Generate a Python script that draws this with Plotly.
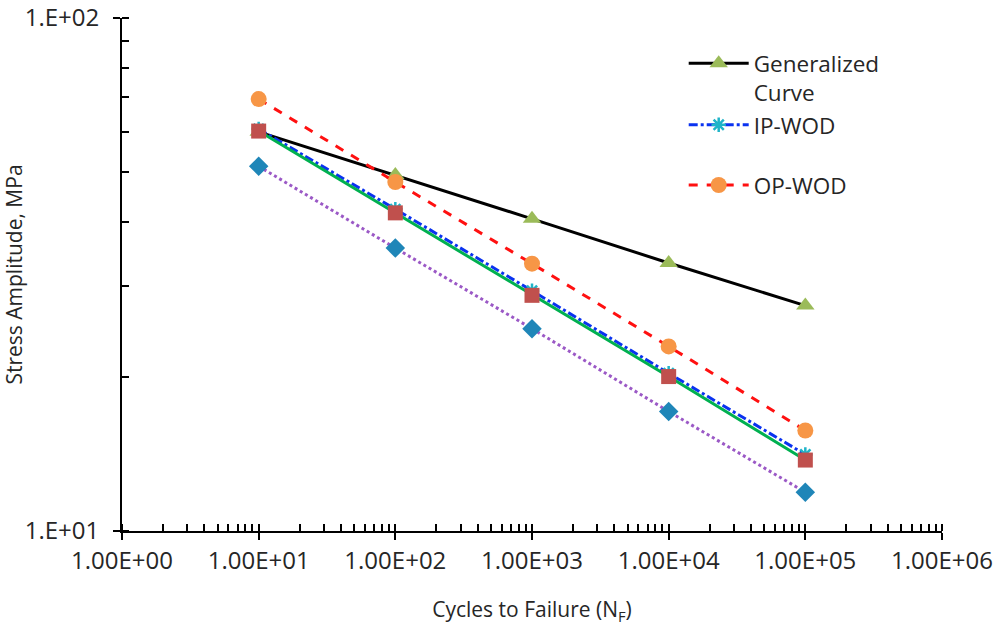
import plotly.graph_objects as go

cycles = [1e1, 1e2, 1e3, 1e4, 1e5]
generalized = [60.0, 49.4, 40.6, 33.3, 27.5]
ip_wod = [60.8, 42.4, 29.4, 20.3, 14.1]
op_wod = [69.5, 47.9, 33.2, 22.9, 15.7]
series_sq = [60.2, 41.7, 28.8, 20.0, 13.75]
series_dia = [51.4, 35.6, 24.8, 17.1, 11.9]

x_ticks = [1e0, 1e1, 1e2, 1e3, 1e4, 1e5, 1e6]
x_ticktext = ["1.00E+00", "1.00E+01", "1.00E+02", "1.00E+03", "1.00E+04", "1.00E+05", "1.00E+06"]
y_ticks = [10, 100]
y_ticktext = ["1.E+01", "1.E+02"]

FONT = "Open Sans"
TXT = "#262626"

fig = go.Figure()
fig.add_trace(go.Scatter(
    x=cycles, y=generalized, name="Generalized<br>Curve", mode="lines+markers",
    line=dict(color="black", width=3),
    marker=dict(symbol="triangle-up", size=16, color="#9BBB59"),
    legendgroup="a"))
fig.add_trace(go.Scatter(
    x=cycles, y=ip_wod, name="IP-WOD", mode="lines+markers",
    line=dict(color="#0A32F0", width=3, dash="dashdot"),
    marker=dict(symbol="asterisk-open", size=12, color="#1FB4C8", line=dict(color="#1FB4C8", width=2.5)),
    legendgroup="a"))
fig.add_trace(go.Scatter(
    x=cycles, y=op_wod, name="OP-WOD", mode="lines+markers",
    line=dict(color="#FF1010", width=3, dash="dash"),
    marker=dict(symbol="circle", size=16, color="#F79646"),
    legendgroup="b"))
fig.add_trace(go.Scatter(
    x=cycles, y=series_sq, name="", mode="lines+markers", showlegend=False,
    line=dict(color="#00B050", width=3),
    marker=dict(symbol="square", size=15, color="#C0504D")))
fig.add_trace(go.Scatter(
    x=cycles, y=series_dia, name="", mode="lines+markers", showlegend=False,
    xaxis="x2", yaxis="y2",
    line=dict(color="#9B59C6", width=3, dash="dot"),
    marker=dict(symbol="diamond", size=15, color="#1F86B8")))

axis_common = dict(
    showline=True, linecolor="black", linewidth=2, showgrid=False, zeroline=False,
    automargin=False,
    ticks="outside", ticklen=7, tickwidth=2, tickcolor="black",
    tickfont=dict(family=FONT, size=24, color=TXT),
    minor=dict(ticks="inside", ticklen=7, tickwidth=1.5, tickcolor="black", dtick="D1", showgrid=False),
)

fig.update_layout(
    xaxis=dict(type="log", range=[0, 6], tickvals=x_ticks, ticktext=x_ticktext,
               ticklabelstandoff=0,
               title=dict(text="Cycles to Failure (N<sub>F</sub>)", font=dict(family=FONT, size=21, color=TXT), standoff=28),
               **axis_common),
    yaxis=dict(type="log", range=[1, 2], tickvals=y_ticks, ticktext=y_ticktext,
               ticklabelstandoff=9,
               title=dict(text="Stress Amplitude, MPa", font=dict(family=FONT, size=21, color=TXT), standoff=9),
               **axis_common),
    # overlay axes: same scales, used to draw the inner half of the crossing major ticks
    xaxis2=dict(type="log", range=[0, 6], overlaying="x", anchor="y2", side="bottom",
                tickvals=x_ticks, showticklabels=False, ticks="inside", ticklen=7, tickwidth=2,
                tickcolor="black", showline=False, showgrid=False, zeroline=False, automargin=False),
    yaxis2=dict(type="log", range=[1, 2], overlaying="y", anchor="x2", side="left",
                tickvals=y_ticks, showticklabels=False, ticks="inside", ticklen=7, tickwidth=2,
                tickcolor="black", showline=False, showgrid=False, zeroline=False, automargin=False),
    width=995, height=627,
    margin=dict(l=122, r=53, t=18, b=96),
    paper_bgcolor="white", plot_bgcolor="white",
    font=dict(family=FONT, size=21, color=TXT),
    legend=dict(x=0.685, y=0.953, xanchor="left", yanchor="top", bgcolor="rgba(0,0,0,0)",
                font=dict(family=FONT, size=22.5, color=TXT), valign="top",
                itemwidth=60, tracegroupgap=28),
)

fig.write_html("out.html")
